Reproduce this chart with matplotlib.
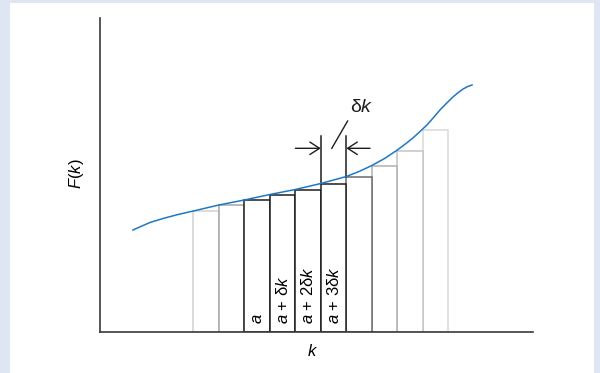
import matplotlib
matplotlib.use("Agg")
from matplotlib import pyplot as plt
from matplotlib.patches import Rectangle

plt.rcParams["font.family"] = ["Liberation Sans", "DejaVu Sans"]
plt.rcParams["mathtext.fontset"] = "custom"
plt.rcParams["mathtext.rm"] = "Liberation Sans"
plt.rcParams["mathtext.it"] = "Liberation Sans:italic"

# bar left edges (k) and heights F, bar width = dk
dk = 1.0
bar_left = [3.66, 4.66, 5.66, 6.66, 7.66, 8.66, 9.66, 10.66, 11.66, 12.66]
bar_height = [12.1, 12.7, 13.2, 13.75, 14.25, 14.85, 15.5, 16.6, 18.1, 20.2]
bar_edge = ["#d2d2d2", "#a6a6a6", "#1e1e1e", "#1e1e1e", "#1e1e1e", "#1e1e1e",
            "#6a6a6a", "#b0b0b0", "#c4c4c4", "#d8d8d8"]
bar_text = ["", "", "$a$", "$a$ + δ$k$", "$a$ + 2δ$k$", "$a$ + 3δ$k$", "", "", "", ""]

# curve F(k)
curve_k = [1.29, 1.96, 2.47, 3.06, 3.66, 4.66, 5.66, 6.66, 7.66, 8.66, 9.66,
           10.16, 10.66, 11.16, 11.66, 12.0, 12.27, 12.55, 12.82, 13.08, 13.33,
           13.6, 13.84, 14.05, 14.24, 14.42, 14.59]
curve_F = [10.2, 10.95, 11.35, 11.75, 12.1, 12.7, 13.2, 13.75, 14.25, 14.85, 15.55,
           16.05, 16.65, 17.35, 18.2, 18.85, 19.4, 20.05, 20.7, 21.45, 22.2,
           22.9, 23.5, 23.95, 24.3, 24.55, 24.7]

fig = plt.figure(figsize=(6, 3.73), dpi=100)
fig.patch.set_facecolor("#dfe6f3")
fig.add_artist(Rectangle((10 / 600, 0), 584 / 600, 370 / 373, transform=fig.transFigure,
                         facecolor="white", edgecolor="none", zorder=0))

ax = fig.add_axes([100 / 600, 41 / 373, 433 / 600, 314 / 373])
ax.set_facecolor("none")
ax.set_xlim(0, 16.98)
ax.set_ylim(0, 31.4)
for s in ["top", "right"]:
    ax.spines[s].set_visible(False)
for s in ["left", "bottom"]:
    ax.spines[s].set_color("#3a3a3a")
    ax.spines[s].set_linewidth(1.2)
ax.set_xticks([])
ax.set_yticks([])

# draw lighter bars first so the dark edges sit on top
order = sorted(range(len(bar_left)), key=lambda i: -int(bar_edge[i][1:3], 16))
for z, i in enumerate(order):
    ax.bar(bar_left[i], bar_height[i], width=dk, align="edge", facecolor="white",
           edgecolor=bar_edge[i], linewidth=1.1, zorder=2 + z * 0.01)
    if bar_text[i]:
        ax.text(bar_left[i] + dk / 2, 0.85, bar_text[i], rotation=90, ha="center",
                va="bottom", fontsize=12, zorder=4)

ax.plot(curve_k, curve_F, color="#1f77c4", linewidth=1.1, zorder=5)

# delta k marker
x0, x1 = bar_left[5], bar_left[5] + dk
y_arr = 18.37
ax.plot([x0, x0], [bar_height[5], 19.63], color="#1e1e1e", lw=1.1, zorder=3)
ax.plot([x1, x1], [bar_height[6], 19.63], color="#1e1e1e", lw=1.1, zorder=3)
ax.annotate("", xy=(x0, y_arr), xytext=(x0 - 1.0, y_arr),
            arrowprops=dict(arrowstyle="->,head_length=0.7,head_width=0.45",
                            color="#1e1e1e", lw=1.0, shrinkA=0, shrinkB=0))
ax.annotate("", xy=(x1, y_arr), xytext=(x1 + 0.93, y_arr),
            arrowprops=dict(arrowstyle="->,head_length=0.7,head_width=0.45",
                            color="#1e1e1e", lw=1.0, shrinkA=0, shrinkB=0))
ax.plot([9.09, 9.71], [18.37, 21.1], color="#1e1e1e", lw=1.0)
ax.text(10.25, 22.5, "δ$k$", fontsize=14, ha="center", va="center", color="#1e1e1e")

ax.set_ylabel("$F$($k$)", fontsize=12)
ax.yaxis.set_label_coords(-0.032, 0.503)
ax.set_xlabel("$k$", fontsize=12)
ax.xaxis.set_label_coords(0.491, -0.036)

fig.savefig("out.png", dpi=100, facecolor=fig.get_facecolor())
